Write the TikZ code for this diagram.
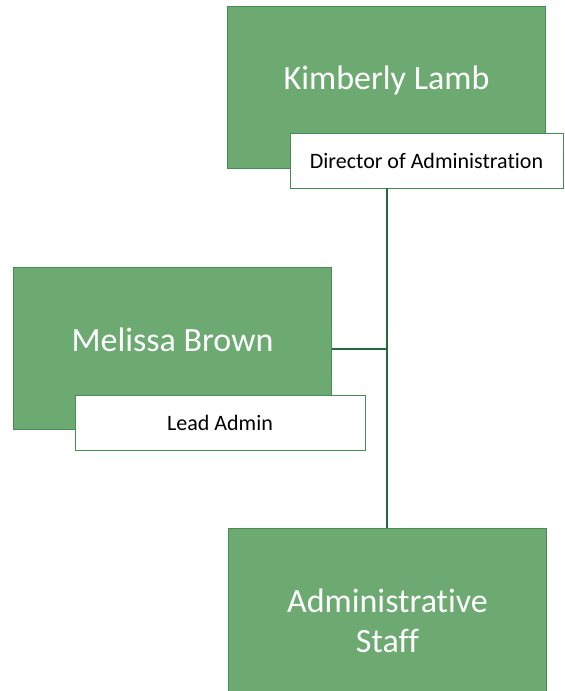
\documentclass[tikz,border=0pt]{standalone}
\usepackage{fontspec}
\setmainfont{Carlito}[Ligatures=NoCommon]
\usepackage{tikz}
\usetikzlibrary{positioning, calc}
\definecolor{boxcol}{RGB}{108,170,114}
\definecolor{edgecol}{RGB}{70,140,85}
\definecolor{linecol}{RGB}{40,105,60}

\begin{document}
\begin{tikzpicture}[
  x=1pt, y=1pt,
  person/.style={draw=edgecol, fill=boxcol, line width=0.8pt,
                 minimum width=318pt, minimum height=162pt,
                 text=white, align=center,
                 font=\fontsize{34}{40}\selectfont},
  personname/.style={person, text depth=18pt},
  role/.style={draw=edgecol, fill=white, line width=0.8pt,
               minimum height=55pt, font=\fontsize{22}{26}\selectfont},
  link/.style={linecol, line width=2pt}
]
  \useasboundingbox (0,0) rectangle (565,-691);

  \node[personname] (kim) at (386.5,-87) {Kimberly Lamb};
  \node[role, minimum width=273pt] (dir) at (426.5,-160.5)
    {Director of Administration};

  \node[personname] (mel) at (172.5,-348.5) {Melissa Brown};
  \node[role, minimum width=290pt] (lead) at (220,-423) {Lead Admin};

  \node[person, minimum height=163pt, text height=87pt, text depth=2pt]
    (staff) at (387.5,-609.5) {Administrative\\Staff};

  \draw[link] (kim.south |- dir.south) -- (kim.south |- staff.north);
  \draw[link] (mel.east) -- (mel.east -| kim.south);
\end{tikzpicture}
\end{document}
